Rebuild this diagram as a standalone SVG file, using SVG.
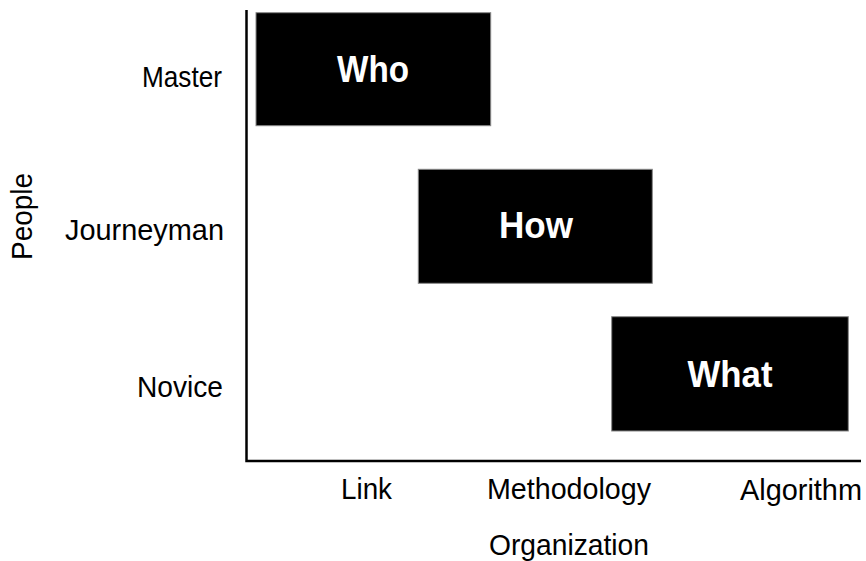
<svg xmlns="http://www.w3.org/2000/svg" width="866" height="561" viewBox="0 0 866 561">
  <style>
    .lbl { font-family: "Liberation Sans", Arial, sans-serif; font-size: 30px; fill: #000; }
    .ttl { font-family: "Liberation Sans", Arial, sans-serif; font-size: 36px; font-weight: bold; fill: #fff; text-anchor: middle; }
    .box { fill: #000; stroke: #888; stroke-width: 1; }
    .axis { stroke: #000; stroke-width: 2.5; fill: none; }
  </style>
  <rect width="866" height="561" fill="#fff"/>

  <!-- axes -->
  <g id="axes">
    <path class="axis" d="M246.5 10 V461 H861"/>
  </g>

  <!-- vertical axis labels -->
  <g id="y-labels" class="lbl" text-anchor="end">
    <text x="222" y="87" textLength="80" lengthAdjust="spacingAndGlyphs">Master</text>
    <text x="224" y="240" textLength="159" lengthAdjust="spacingAndGlyphs">Journeyman</text>
    <text x="223" y="397" textLength="86" lengthAdjust="spacingAndGlyphs">Novice</text>
  </g>
  <text id="y-title" class="lbl" transform="translate(31.5 260) rotate(-90)" textLength="87" lengthAdjust="spacingAndGlyphs">People</text>

  <!-- horizontal axis labels -->
  <g id="x-labels" class="lbl">
    <text x="341" y="499" textLength="51" lengthAdjust="spacingAndGlyphs">Link</text>
    <text x="487" y="499" textLength="164" lengthAdjust="spacingAndGlyphs">Methodology</text>
    <text x="740" y="500" textLength="122" lengthAdjust="spacingAndGlyphs">Algorithm</text>
  </g>
  <text id="x-title" class="lbl" x="489" y="555" textLength="160" lengthAdjust="spacingAndGlyphs">Organization</text>

  <!-- blocks -->
  <g id="who">
    <rect class="box" x="256" y="12.7" width="234.7" height="113"/>
    <text class="ttl" x="373" y="81.7" textLength="72" lengthAdjust="spacingAndGlyphs">Who</text>
  </g>
  <g id="how">
    <rect class="box" x="418.3" y="169.3" width="234" height="114"/>
    <text class="ttl" x="536" y="238.3" textLength="74" lengthAdjust="spacingAndGlyphs">How</text>
  </g>
  <g id="what">
    <rect class="box" x="611.7" y="316.7" width="236.6" height="114.3"/>
    <text class="ttl" x="730" y="387.3" textLength="85" lengthAdjust="spacingAndGlyphs">What</text>
  </g>
</svg>
